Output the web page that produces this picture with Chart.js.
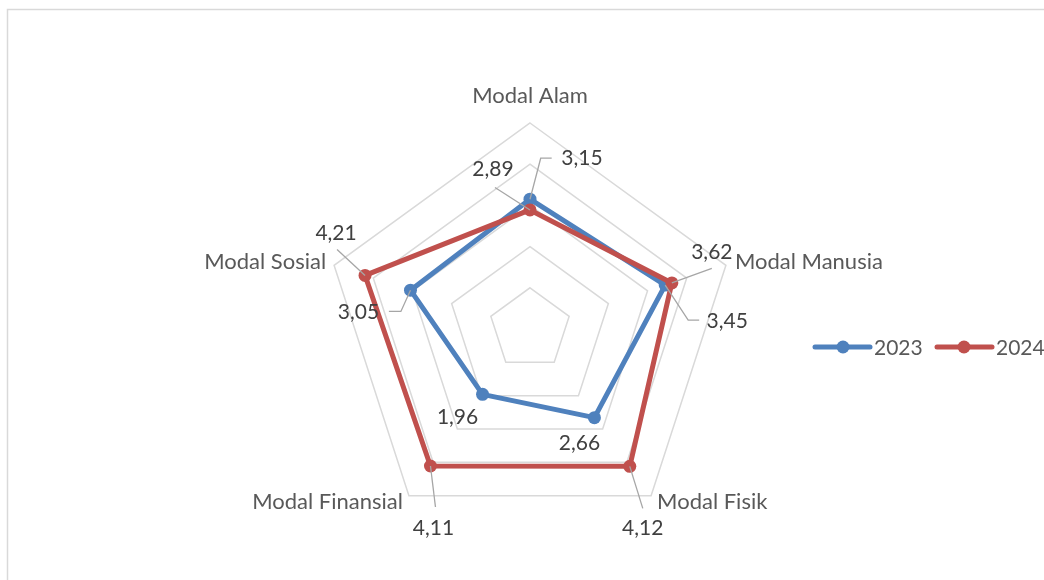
<!DOCTYPE html>
<html>
<head>
<meta charset="utf-8">
<script src="https://cdn.jsdelivr.net/npm/chart.js@4/dist/chart.umd.min.js"></script>
<style>
  html, body { margin: 0; padding: 0; background: #ffffff; }
  #wrap { position: relative; width: 1044px; height: 580px; overflow: hidden; }
  canvas { display: block; }
</style>
</head>
<body>
<div id="wrap"><canvas id="c" width="1044" height="580"></canvas></div>
<script>
// ---- data ----
const categories = ["Modal Alam", "Modal Manusia", "Modal Fisik", "Modal Finansial", "Modal Sosial"];
const seriesNames = ["2023", "2024"];
const values2023 = [3.15, 3.45, 2.66, 1.96, 3.05];
const values2024 = [2.89, 3.62, 4.12, 4.11, 4.21];
const scaleMin = 0;
const scaleMax = 5;
const scaleStep = 1;

// ---- styling / layout (not data) ----
const FONT = 'Lato, "Open Sans", sans-serif';
const CAT_FONT_SIZE = 22;
const NUM_FONT_SIZE = 21;
const colors = ["#4F81BD", "#C0504D"];
const pointLabelLayout = [
  { dx: 0, dy: -27, align: "center" },
  { dx: 9, dy: -3, align: "left" },
  { dx: 6, dy: 6, align: "left" },
  { dx: -6, dy: 6, align: "right" },
  { dx: -8, dy: -3, align: "right" }
];
const valueLabelLayout = [
  [ // 2023
    { dx: 52, dy: -41, leader: [[10.7, -41], [21.7, -41]] },
    { dx: 62, dy: 36, leader: [[23, 35], [34, 35]] },
    { dx: -15, dy: 26 },
    { dx: -25, dy: 23 },
    { dx: -52, dy: 22, leader: [[-9.6, 21.3], [-21.6, 21.3]] }
  ],
  [ // 2024
    { dx: -37, dy: -40.5, leader: [[-35, -22.5]] },
    { dx: 40, dy: -30.5, leader: [[40, -14.5]] },
    { dx: 13, dy: 62, leader: [[13, 42]] },
    { dx: 3, dy: 62, leader: [[5, 41]] },
    { dx: -29, dy: -42, leader: [[-28, -26]] }
  ]
];

const fmt = v => v.toFixed(2).replace(".", ",");

const decorPlugin = {
  id: "decor",
  beforeDraw(chart) {
    const ctx = chart.ctx;
    ctx.save();
    ctx.strokeStyle = "#D9D9D9";
    ctx.lineWidth = 1.5;
    ctx.beginPath();
    ctx.moveTo(7.5, 600);
    ctx.lineTo(7.5, 9.5);
    ctx.lineTo(1100, 9.5);
    ctx.stroke();
    ctx.restore();
  },
  afterDraw(chart) {
    const ctx = chart.ctx;
    const scale = chart.scales.r;
    ctx.save();
    ctx.textBaseline = "middle";
    // category labels
    ctx.font = CAT_FONT_SIZE + "px " + FONT;
    ctx.fillStyle = "#595959";
    categories.forEach((lbl, i) => {
      const p = scale.getPointPosition(i, scale.drawingArea);
      const L = pointLabelLayout[i];
      ctx.textAlign = L.align;
      ctx.fillText(lbl, p.x + L.dx, p.y + L.dy);
    });
    // value labels with leader lines
    ctx.font = NUM_FONT_SIZE + "px " + FONT;
    chart.data.datasets.forEach((ds, di) => {
      const meta = chart.getDatasetMeta(di);
      meta.data.forEach((pt, j) => {
        const L = valueLabelLayout[di][j];
        if (L.leader) {
          ctx.strokeStyle = "#A6A6A6";
          ctx.lineWidth = 1.3;
          ctx.beginPath();
          ctx.moveTo(pt.x, pt.y);
          L.leader.forEach(q => ctx.lineTo(pt.x + q[0], pt.y + q[1]));
          ctx.stroke();
        }
        ctx.fillStyle = "#404040";
        ctx.textAlign = "center";
        ctx.fillText(fmt(ds.data[j]), pt.x + L.dx, pt.y + L.dy);
      });
    });
    // legend
    const legY = 347;
    const legItems = [{ x0: 815, x1: 870, cx: 843, tx: 874 }, { x0: 937, x1: 992, cx: 964, tx: 996 }];
    chart.data.datasets.forEach((ds, di) => {
      const it = legItems[di];
      ctx.strokeStyle = ds.borderColor;
      ctx.lineWidth = 5;
      ctx.lineCap = "round";
      ctx.beginPath();
      ctx.moveTo(it.x0, legY);
      ctx.lineTo(it.x1, legY);
      ctx.stroke();
      ctx.fillStyle = ds.borderColor;
      ctx.beginPath();
      ctx.arc(it.cx, legY, 6.5, 0, Math.PI * 2);
      ctx.fill();
      ctx.fillStyle = "#595959";
      ctx.textAlign = "left";
      ctx.fillText(ds.label, it.tx, legY + 1);
    });
    ctx.restore();
  }
};

const seriesValues = [values2023, values2024];
new Chart(document.getElementById("c"), {
  type: "radar",
  data: {
    labels: categories,
    datasets: seriesNames.map((name, i) => ({
      label: name,
      data: seriesValues[i],
      borderColor: colors[i],
      backgroundColor: colors[i],
      pointBackgroundColor: colors[i],
      pointBorderColor: colors[i],
      pointBorderWidth: 0,
      pointRadius: 6.5,
      borderWidth: 5,
      fill: false,
      tension: 0,
      order: i === 0 ? 1 : 0
    }))
  },
  options: {
    responsive: false,
    animation: false,
    devicePixelRatio: 1,
    layout: { padding: { top: 123, bottom: 45, left: 100, right: 84 } },
    plugins: { legend: { display: false }, tooltip: { enabled: false }, title: { display: false } },
    elements: { line: { borderJoinStyle: "round", borderCapStyle: "round" } },
    scales: {
      r: {
        min: scaleMin,
        max: scaleMax,
        ticks: { stepSize: scaleStep, display: false },
        grid: { color: "#D9D9D9", lineWidth: 1.5, circular: false },
        angleLines: { display: false },
        pointLabels: { display: false }
      }
    }
  },
  plugins: [decorPlugin]
});
</script>
</body>
</html>
